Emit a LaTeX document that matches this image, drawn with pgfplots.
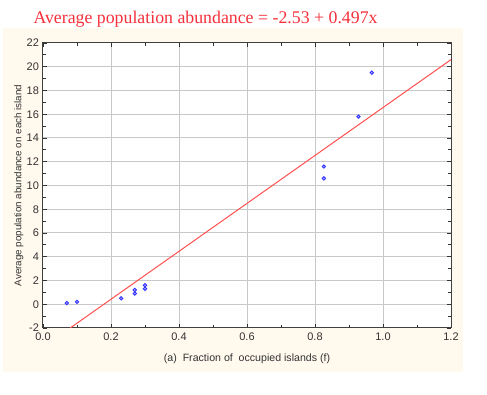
\documentclass[border=0pt]{standalone}
\usepackage{pgfplots}
\pgfplotsset{compat=1.18}
\usepackage{fontspec}
\setmainfont{Liberation Serif}
\setsansfont{Liberation Sans}
\definecolor{cream}{HTML}{FFF9EE}
\definecolor{titlered}{HTML}{F5303A}
\definecolor{linered}{HTML}{FF5050}
\definecolor{gridgray}{HTML}{C8C8C8}
\definecolor{ptblue}{HTML}{3030FF}
\begin{document}
\begin{tikzpicture}[x=1pt,y=1pt]
\path[use as bounding box] (0,0) rectangle (487,395);
\fill[cream] (3,23) rectangle (463,367);
\node[anchor=west,text=titlered,font=\fontsize{17.8}{19}\selectfont\rmfamily] at (30,376) {Average population abundance = -2.53 + 0.497x};
\begin{axis}[
  at={(43pt,67pt)}, anchor=south west,
  scale only axis, width=408pt, height=285pt,
  xmin=0, xmax=1.2, ymin=-2, ymax=22,
  xtick={0,0.2,...,1.2}, ytick={-2,0,...,22},
  minor x tick num=1, minor y tick num=1,
  /pgf/number format/assume math mode=true,
  ticklabel style={font=\fontsize{11}{12}\selectfont\sffamily, text=black!80},
  xticklabel style={/pgf/number format/fixed, /pgf/number format/fixed zerofill, /pgf/number format/precision=1, yshift=-1pt},
  yticklabel style={xshift=-0.5pt},
  tick align=inside, tick pos=both,
  major tick length=4pt, minor tick length=3pt,
  every tick/.style={black!80, line width=0.8pt},
  grid=major, major grid style={gridgray, line width=1pt},
  axis line style={black!75, line width=1pt},
  axis background/.style={fill=white},
  xlabel={(a)\ \ Fraction of \ occupied islands (f)},
  ylabel={Average population abundance on each island},
  xlabel style={font=\fontsize{10.6}{12}\selectfont\sffamily, text=black!80, at={(axis description cs:0.5,-0.109)}, anchor=center},
  ylabel style={font=\fontsize{9.8}{11}\selectfont\sffamily, text=black!80, at={(axis description cs:-0.059,0.5)}, anchor=center},
  clip=true,
]
\addplot[linered, line width=1pt] coordinates {(0.08,-2) (1.2,20.6)};
\addplot[only marks, mark=*, mark size=1.7pt, mark options={draw=ptblue, fill=ptblue!35, line width=0.9pt}] coordinates {
(0.07,0.1) (0.10,0.2) (0.23,0.5) (0.27,0.9) (0.27,1.2) (0.30,1.3) (0.30,1.6)
(0.826,10.6) (0.826,11.6) (0.928,15.8) (0.967,19.5)
};
\end{axis}
\end{tikzpicture}
\end{document}
